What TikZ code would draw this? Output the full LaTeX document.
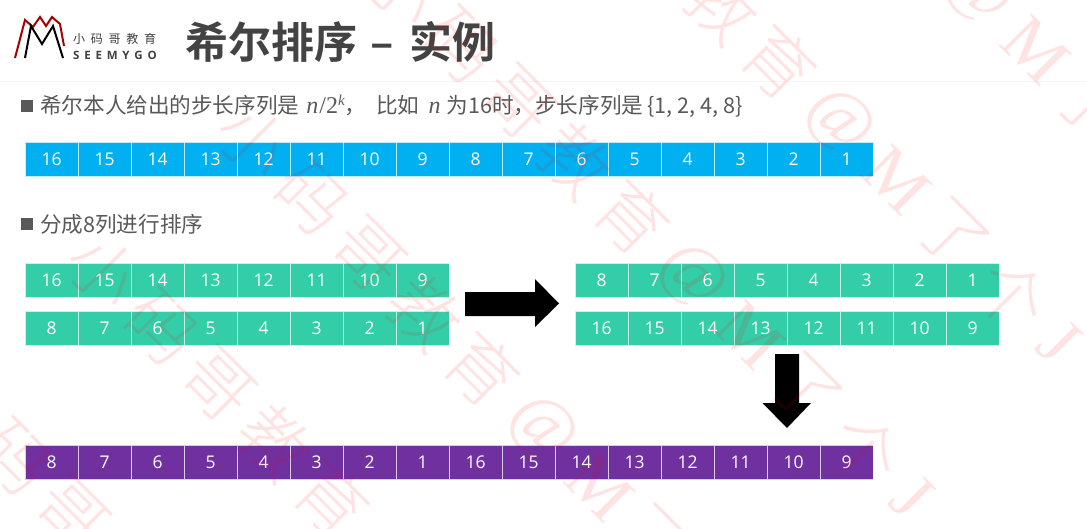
\documentclass[tikz,border=0pt]{standalone}
\usepackage{fontspec}
\setmainfont{Open Sans}
\newfontfamily\cjk{Noto Sans CJK SC}
\newfontfamily\cjkb{Noto Sans CJK SC Bold}
\newfontfamily\cjkt{Noto Sans CJK SC Light}
\newfontfamily\serifw{Liberation Serif}
\definecolor{bluecell}{HTML}{00B0F0}
\definecolor{greencell}{HTML}{33CEA8}
\definecolor{purplecell}{HTML}{7030A0}
\definecolor{inkgrey}{HTML}{595959}
\newcommand{\wmline}[2]{%
 \foreach \ch/\d/\fnt in {小/-256/\cjkt,码/-199/\cjkt,哥/-142/\cjkt,教/-85/\cjkt,育/-28/\cjkt,@/32/\serifw,M/90/\serifw,了/145/\cjkt,个/205/\cjkt,J/252/\serifw}
  \node[wm] at ({#1+\d},{#2+\d}) {\fnt\ch};}
\tikzset{x=1pt,y=-1pt,
 cell/.style={draw=white,draw opacity=0.75,line width=0.7pt,minimum width=53.3pt,minimum height=34.6pt,inner sep=0pt,text=white,font=\fontsize{17.5}{18}\selectfont,anchor=north west},
 bluecellst/.style={cell,fill=bluecell},greencellst/.style={cell,fill=greencell},purplecellst/.style={cell,fill=purplecell},
 wm/.style={text=red,opacity=0.11,font=\fontsize{70}{70}\selectfont,rotate=-45,anchor=center,inner sep=0pt},
 bigarrow/.style={fill=black,draw=none},
 body/.style={anchor=west,inner sep=0pt,font=\cjk\fontsize{21.6}{24}\selectfont,text=inkgrey},
 bulletbox/.style={fill=inkgrey,minimum size=12pt,inner sep=0pt,anchor=north west}}
\begin{document}
\begin{tikzpicture}
\useasboundingbox (0,0) rectangle (1087,528);
\fill[white] (0,0) rectangle (1087,528);
\fill[black!4] (0,80.5) rectangle (1087,81.5);
% logo
\draw[red!65!black,line width=2pt,line join=miter] (15,58) -- (25,20) -- (33,27) -- (40,17) -- (46,26) -- (52,17) -- (60,24) -- (64,46);
\draw[black,line width=2pt,line join=miter] (25,58) -- (31,26) -- (42,44) -- (53,26) -- (63,58);
\node[anchor=west,inner sep=0pt,font=\cjk\fontsize{12}{12}\selectfont,text=black!75] (logoa) at (73,39) {小\kern5.7pt 码\kern5.7pt 哥\kern5.7pt 教\kern5.7pt 育};
\node[anchor=west,inner sep=0pt,font=\bfseries\fontsize{11.5}{12}\selectfont,text=black!75] (logob) at (73,55) {S\kern4.8pt E\kern4.8pt E\kern4.8pt M\kern4.8pt Y\kern4.8pt G\kern4.8pt O};
\node[anchor=west,inner sep=0pt,font=\cjkb\fontsize{43}{44}\selectfont,text=inkgrey!75!black] (title) at (185,42) {希尔排序\kern13pt –\kern16pt 实例};
% bullets
\node[bulletbox] (ba) at (21,100) {};
\node[body] (ta) at (40,106) {希尔本人给出的步长序列是\kern7pt{\fontsize{24}{24}\selectfont\serifw\itshape n}\kern1pt{\fontsize{24}{24}\selectfont\serifw /2}\raisebox{8pt}{\fontsize{15}{15}\selectfont\serifw\itshape k}，\kern10pt 比如\kern9pt{\fontsize{24}{24}\selectfont\serifw\itshape n}\kern6pt 为16时，步长序列是\kern4pt\{1, 2, 4, 8\}};
\node[bulletbox] (bb) at (21,217.5) {};
\node[body] (tb) at (40,224) {分成8列进行排序};
% rows
\foreach \v [count=\i from 0] in {16,15,...,1} \node[bluecellst] (r\i) at ({24.7+\i*53},141.7) {\v};
\foreach \v [count=\i from 0] in {16,15,...,9} \node[greencellst] (s\i) at ({24.7+\i*53},262.7) {\v};
\foreach \v [count=\i from 0] in {8,7,...,1} \node[greencellst] (t\i) at ({24.7+\i*53},310.7) {\v};
\foreach \v [count=\i from 0] in {8,7,...,1} \node[greencellst] (u\i) at ({574.7+\i*53},262.7) {\v};
\foreach \v [count=\i from 0] in {16,15,...,9} \node[greencellst] (w\i) at ({574.7+\i*53},310.7) {\v};
\foreach \v [count=\i from 0] in {8,7,6,5,4,3,2,1,16,15,14,13,12,11,10,9} \node[purplecellst] (p\i) at ({24.7+\i*53},444.7) {\v};
% arrows
\fill[bigarrow] (465,292) -- (535,292) -- (535,279) -- (559,303.5) -- (535,327) -- (535,316) -- (465,316) -- cycle;
\fill[bigarrow] (775,354) -- (799,354) -- (799,403) -- (811,403) -- (787,428) -- (762.5,403) -- (775,403) -- cycle;
% watermark
\wmline{946}{-40}
\wmline{807}{90}
\wmline{660}{245}
\wmline{510}{397}
\wmline{360}{527}
\wmline{214}{657}
\end{tikzpicture}
\end{document}
